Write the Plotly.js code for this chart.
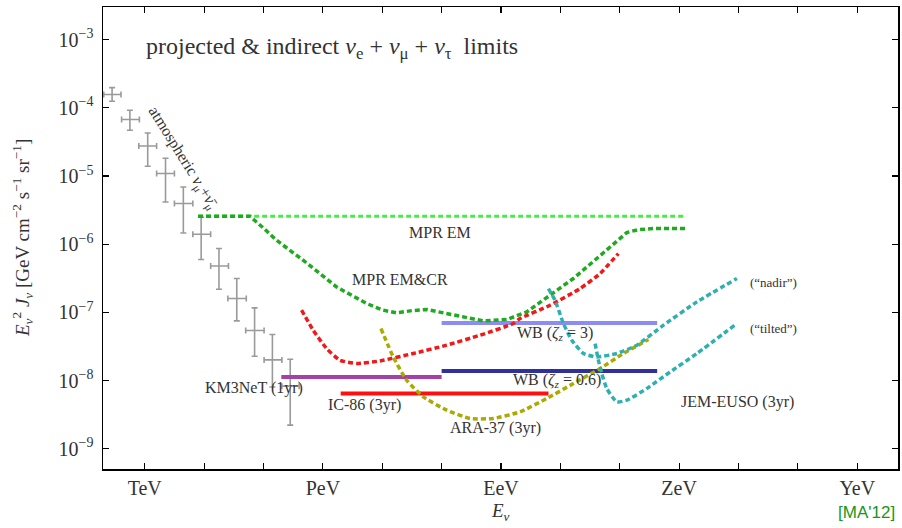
<!DOCTYPE html>
<html><head><meta charset="utf-8">
<script src="https://cdn.plot.ly/plotly-3.0.1.min.js"></script>
<style>body{margin:0;background:#fff}</style>
</head><body><div id="plot" style="width:902px;height:528px"></div>
<script>
// ---------- data (log10 GeV, log10 flux) ----------
const atmLogE   = [2.45, 2.75, 3.05, 3.35, 3.65, 3.95, 4.25, 4.55, 4.85, 5.15, 5.45];
const atmLogElo = [2.31, 2.61, 2.90, 3.20, 3.50, 3.81, 4.11, 4.40, 4.70, 5.01, 5.31];
const atmLogEhi = [2.60, 2.91, 3.20, 3.50, 3.81, 4.11, 4.41, 4.71, 5.01, 5.31, 5.60];
const atmLogJ   = [-3.806, -4.173, -4.560, -4.965, -5.405, -5.855, -6.320, -6.798, -7.267, -7.698, -8.083];
const atmLogJlo = [-3.905, -4.330, -4.858, -5.381, -5.836, -6.226, -6.661, -7.126, -7.644, -8.096, -8.655];
const atmLogJhi = [-3.704, -4.037, -4.370, -4.740, -5.161, -5.606, -6.065, -6.504, -6.935, -7.326, -7.688];

const mprEM_logE = [3.90, 12.12];
const mprEM_logJ = [-5.591, -5.591];

const mprCR_logE = [3.898, 4.770, 5.000, 5.220, 5.668, 6.231, 6.737, 7.000, 7.242, 7.500, 7.748, 8.100, 8.422, 8.702, 9.096, 9.434, 9.826, 10.219, 10.613, 11.119, 11.300, 11.567, 12.130];
const mprCR_logJ = [-5.591, -5.591, -5.765, -5.943, -6.236, -6.628, -6.871, -6.965, -7.009, -6.975, -6.959, -7.020, -7.076, -7.126, -7.106, -6.994, -6.749, -6.504, -6.211, -5.830, -5.790, -5.771, -5.771];

const red_logE = [5.641, 5.837, 6.062, 6.287, 6.568, 6.961, 7.522, 8.085, 8.646, 9.207, 9.320, 9.826, 10.332, 10.669, 10.977];
const red_logJ = [-6.969, -7.262, -7.531, -7.702, -7.751, -7.713, -7.604, -7.482, -7.336, -7.164, -7.091, -6.896, -6.651, -6.431, -6.138];

const ara_logE = [6.978, 7.185, 7.411, 7.691, 8.085, 8.478, 8.871, 9.320, 9.770, 10.219, 10.669, 11.062, 11.483];
const ara_logJ = [-7.238, -7.654, -7.996, -8.240, -8.435, -8.557, -8.557, -8.460, -8.264, -8.044, -7.824, -7.604, -7.399];

const nadir_logE = [9.798, 9.910, 10.051, 10.192, 10.388, 10.613, 10.950, 11.288, 11.736, 12.299, 12.973];
const nadir_logJ = [-6.651, -6.823, -7.164, -7.409, -7.604, -7.654, -7.604, -7.482, -7.189, -6.847, -6.504];

const tilt_logE = [10.585, 10.640, 10.697, 10.781, 10.950, 11.119, 11.456, 11.849, 12.299, 12.973];
const tilt_logJ = [-7.458, -7.702, -7.897, -8.117, -8.314, -8.289, -8.117, -7.874, -7.604, -7.164];

const wb3_logE  = [8.0, 11.63];   const wb3_logJ  = [-7.155, -7.155];
const wb06_logE = [8.0, 11.63];   const wb06_logJ = [-7.859, -7.859];
const km3_logE  = [5.30, 8.0];    const km3_logJ  = [-7.947, -7.947];
const ic86_logE = [6.30, 9.80];   const ic86_logJ = [-8.190, -8.190];

const xTickLogs = [3,4,5,6,7,8,9,10,11,12,13,14,15];
const xTickText = ['TeV','','','PeV','','','EeV','','','ZeV','','','YeV'];
const yTickLogs = [-9,-8,-7,-6,-5,-4,-3];
const yTickText = ['10<sup>−9</sup>','10<sup>−8</sup>','10<sup>−7</sup>','10<sup>−6</sup>','10<sup>−5</sup>','10<sup>−4</sup>','10<sup>−3</sup>'];

// ---------- build ----------
const p = v => v.map(a => Math.pow(10, a));
const SERIF = 'Liberation Serif, DejaVu Serif, serif';
const DASH = '5px,3px';

function line(lx, ly, color, width, dash, shape) {
  return {x: p(lx), y: p(ly), mode: 'lines', type: 'scatter', hoverinfo: 'skip',
          line: {color: color, width: width, dash: dash || 'solid', shape: shape || 'linear', smoothing: 0.5}};
}

const atmC = p(atmLogJ);
const atmE = p(atmLogE);
const traces = [
  {x: atmE, y: atmC, type: 'scatter', mode: 'markers',
   marker: {size: 1, color: 'rgba(0,0,0,0)'},
   error_y: {type: 'data', symmetric: false,
             array: p(atmLogJhi).map((v,i) => v - atmC[i]),
             arrayminus: p(atmLogJlo).map((v,i) => atmC[i] - v),
             color: '#9a9a9a', thickness: 1.6, width: 3},
   error_x: {type: 'data', symmetric: false,
             array: p(atmLogEhi).map((v,i) => v - atmE[i]),
             arrayminus: p(atmLogElo).map((v,i) => atmE[i] - v),
             color: '#9a9a9a', thickness: 1.6, width: 3}},
  line(wb3_logE, wb3_logJ, '#8c8cf5', 4),
  line(wb06_logE, wb06_logJ, '#30309a', 4),
  line(km3_logE, km3_logJ, '#a640a6', 4),
  line(ic86_logE, ic86_logJ, '#ff1010', 4),
  line(mprEM_logE, mprEM_logJ, '#44ee44', 3.2, DASH),
  line(mprCR_logE, mprCR_logJ, '#1faa1f', 3.5, DASH),
  line(red_logE, red_logJ, '#f01818', 3.5, DASH, 'spline'),
  line(ara_logE, ara_logJ, '#aaaa00', 3.5, DASH, 'spline'),
  line(nadir_logE, nadir_logJ, '#2fb0b0', 3.5, DASH, 'spline'),
  line(tilt_logE, tilt_logJ, '#2fb0b0', 3.5, DASH, 'spline')
];

const L = 103, T = 7, W = 795, H = 462;
function ann(text, xpx, ypx, size, extra) {
  return Object.assign({xref: 'paper', yref: 'paper', x: (xpx - L) / W, y: (T + H - ypx) / H,
    text: text, showarrow: false, xanchor: 'center', yanchor: 'middle',
    font: {family: SERIF, size: size, color: '#333'}}, extra || {});
}
const nu = '<i>ν</i>';
const annotations = [
  ann('projected &amp; indirect ' + nu + '<sub>e</sub> + ' + nu + '<sub>μ</sub> + ' + nu + '<sub>τ</sub>  limits', 144, 48, 24, {xanchor: 'left'}),
  ann('atmospheric ' + nu + '<sub>μ</sub>+<i>ν̄</i><sub>μ</sub>', 183, 157, 16, {textangle: 58}),
  ann('MPR EM', 440, 232, 16),
  ann('MPR EM&amp;CR', 400, 280, 16),
  ann('WB (<i>ζ</i><sub><i>z</i></sub> = 3)', 555, 333, 16),
  ann('WB (<i>ζ</i><sub><i>z</i></sub> = 0.6)', 557, 380, 16),
  ann('KM3NeT (1yr)', 254, 388, 16),
  ann('IC-86 (3yr)', 364, 405, 16),
  ann('ARA-37 (3yr)', 495, 428, 16),
  ann('JEM-EUSO (3yr)', 737, 402, 16),
  ann('(“nadir”)', 773, 282, 13),
  ann('(“tilted”)', 773, 328, 13),
  ann('<i>E</i><sub><i>ν</i></sub><sup>2</sup> <i>J</i><sub><i>ν</i></sub> [GeV cm<sup>−2</sup> s<sup>−1</sup> sr<sup>−1</sup>]', 22, 238, 19, {textangle: -90}),
  ann('<i>E</i><sub><i>ν</i></sub>', 500, 512, 19),
  ann("[MA'12]", 897, 512, 17, {xanchor: 'right', font: {family: 'Liberation Sans, Arial, sans-serif', size: 17, color: '#1a961a'}})
];

const axisCommon = {showline: true, linecolor: '#000', linewidth: 1.5, mirror: 'ticks',
  ticks: 'inside', ticklen: 6, tickwidth: 1.2, tickcolor: '#000', showgrid: false, zeroline: false,
  tickfont: {family: SERIF, size: 20, color: '#333'}};

const layout = {
  width: 902, height: 528, margin: {l: L, r: 902 - L - W, t: T, b: 528 - T - H},
  paper_bgcolor: '#fff', plot_bgcolor: '#fff', showlegend: false,
  xaxis: Object.assign({}, axisCommon, {type: 'log', range: [2.297, 15.686],
    tickmode: 'array', tickvals: p(xTickLogs), ticktext: xTickText}),
  yaxis: Object.assign({}, axisCommon, {type: 'log', range: [-9.298, -2.522],
    tickmode: 'array', tickvals: p(yTickLogs), ticktext: yTickText, ticklabelstandoff: 4}),
  annotations: annotations
};

Plotly.newPlot('plot', traces, layout, {staticPlot: true, displayModeBar: false});
</script>
</body></html>
